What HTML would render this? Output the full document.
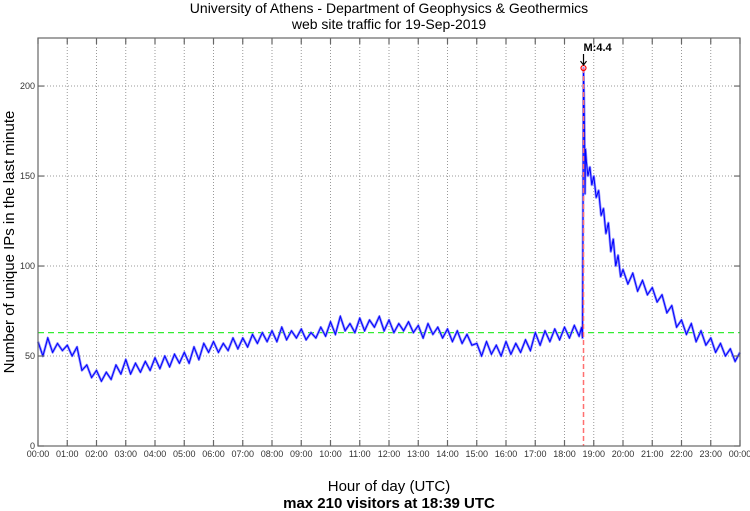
<!DOCTYPE html>
<html><head><meta charset="utf-8"><style>
body{margin:0;background:#fff;}
svg{display:block;font-family:"Liberation Sans","DejaVu Sans",sans-serif;}
</style></head><body>
<svg id="chart" width="750" height="511" viewBox="0 0 750 511">
<text x="389" y="13" font-size="14" text-anchor="middle">University of Athens - Department of Geophysics &amp; Geothermics</text>
<text x="389" y="29" font-size="14" text-anchor="middle">web site traffic for 19-Sep-2019</text>
<text transform="translate(14,242) rotate(-90)" font-size="15" text-anchor="middle">Number of unique IPs in the last minute</text>
<text x="389" y="491" font-size="15" text-anchor="middle">Hour of day (UTC)</text>
<text x="389" y="508" font-size="15" text-anchor="middle" font-weight="bold">max 210 visitors at 18:39 UTC</text>
<g id="grid"></g>
<g id="marks"></g>
<g id="axes"></g>
</svg>
<script>
const yTicks=[0,50,100,150,200];
const xTickLabels=["00:00","01:00","02:00","03:00","04:00","05:00","06:00","07:00","08:00","09:00","10:00","11:00","12:00","13:00","14:00","15:00","16:00","17:00","18:00","19:00","20:00","21:00","22:00","23:00","00:00"];
// 10-minute values from 00:00 to 18:30
const baseValues=[58,50,60,52,57,53, 56,50,55,42,45,38, 42,36,41,37,45,40, 48,40,46,41,47,42, 49,43,50,44,51,46, 52,46,55,48,57,52, 58,52,57,53,60,54, 60,55,62,57,63,58, 64,58,66,59,64,60, 65,59,63,60,66,61, 69,62,72,64,68,63, 71,64,70,66,72,64, 70,63,68,64,69,63, 67,60,68,62,66,60, 65,58,64,57,62,56, 57,50,58,51,56,50, 58,51,57,52,59,53, 63,56,64,58,65,59, 66,60,67,61];
// event segment: minute of day and values
const eventMinutes=[1115,1117,1118,1119,1120,1121,1122,1123,1125,1128,1132,1136,1140,1145,1150,1155,1160,1165,1170,1175,1180,1185,1190,1195,1200,1210,1220,1230,1240,1250,1260,1270,1280,1290,1300,1310,1320,1330,1340,1350,1360,1370,1380,1390,1400,1410,1420,1430,1440];
const eventValues=[66,60,130,210,195,175,140,165,158,150,155,145,150,138,142,128,132,118,124,108,115,100,106,94,98,90,96,86,92,84,88,80,84,74,78,66,70,62,68,58,64,56,60,52,57,50,54,47,52];
const meanLevel=63;
const maxMinute=1119, maxValue=210, quakeLabel="M:4.4";

const L=38,R=740,T=38,B=446,YMAX=226.7;
const xs=m=>L+(R-L)*m/1440;
const ys=v=>B-(B-T)*v/YMAX;
const NS="http://www.w3.org/2000/svg";
function mk(tag,attrs,parent){const e=document.createElementNS(NS,tag);for(const k in attrs)e.setAttribute(k,attrs[k]);parent.appendChild(e);return e;}
const grid=document.getElementById('grid'),marks=document.getElementById('marks'),axes=document.getElementById('axes');

xTickLabels.forEach((lab,i)=>{
  const x=xs(i*60);
  if(i>0&&i<24){const g=mk('line',{x1:x,x2:x,y1:T,y2:B,stroke:'#999','stroke-width':1,'stroke-dasharray':'1,2'},grid);
  
  }
  const t1=mk('line',{x1:x,x2:x,y1:B,y2:B-6,stroke:'#666','stroke-width':1.2},axes);
  
  
  mk('line',{x1:x,x2:x,y1:T,y2:T+6,stroke:'#666','stroke-width':1.2},axes);
  const t=mk('text',{x:x,y:B+11,'font-size':9,'text-anchor':'middle',fill:'#333'},axes);
  t.textContent=lab;
  
  
});
yTicks.forEach(v=>{
  const y=ys(v);
  if(v>0){const g=mk('line',{x1:L,x2:R,y1:y,y2:y,stroke:'#999','stroke-width':1,'stroke-dasharray':'1,2'},grid);
  
  }
  mk('line',{x1:L,x2:L+6,y1:y,y2:y,stroke:'#666','stroke-width':1.2},axes);
  mk('line',{x1:R,x2:R-6,y1:y,y2:y,stroke:'#666','stroke-width':1.2},axes);
  const t=mk('text',{x:L-3,y:y+3,'font-size':9,'text-anchor':'end',fill:'#333'},axes);
  t.textContent=v;
  
  
});
const frame=mk('rect',{x:L,y:T,width:R-L,height:B-T,fill:'none',stroke:'#666','stroke-width':1.2},axes);



const ml=mk('line',{x1:L,x2:R,y1:ys(meanLevel),y2:ys(meanLevel),stroke:'#33ee33','stroke-width':1.3,'stroke-dasharray':'6,4'},marks);



let pts=baseValues.map((v,i)=>[i*10,v]);
eventMinutes.forEach((m,i)=>pts.push([m,eventValues[i]]));
const d=pts.map((p,i)=>(i?'L':'M')+xs(p[0]).toFixed(1)+','+ys(p[1]).toFixed(1)).join(' ');
const band=mk('path',{d:d,fill:'none',stroke:'#9090ff','stroke-width':2.5,'stroke-linejoin':'round'},marks);


const line=mk('path',{d:d,fill:'none',stroke:'#0000ff','stroke-width':1},marks);



const qx=xs(maxMinute);
const ql=mk('line',{x1:qx,x2:qx,y1:ys(maxValue),y2:B,stroke:'#ff7070','stroke-width':1.5,'stroke-dasharray':'5,3'},marks);


const c=mk('circle',{cx:qx,cy:ys(maxValue),r:2.5,fill:'none',stroke:'#ff0000','stroke-width':1.2},marks);


const ar=mk('path',{d:`M${qx},${ys(maxValue)-14} L${qx},${ys(maxValue)-3} M${qx-3},${ys(maxValue)-7} L${qx},${ys(maxValue)-3} L${qx+3},${ys(maxValue)-7}`,stroke:'#000','stroke-width':1.2,fill:'none'},marks);


const qt=mk('text',{x:qx,y:ys(maxValue)-17,'font-size':11,'font-weight':'bold'},marks);
qt.textContent=quakeLabel;


</script>
</body></html>
